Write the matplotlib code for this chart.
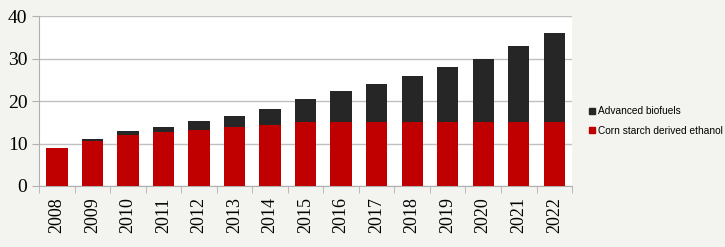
import numpy as np
import matplotlib.pyplot as plt
from matplotlib.patches import Patch

years = ['2008', '2009', '2010', '2011', '2012', '2013', '2014', '2015',
         '2016', '2017', '2018', '2019', '2020', '2021', '2022']
corn = [9.0, 10.5, 12.0, 12.6, 13.2, 13.8, 14.4, 15.0,
        15.0, 15.0, 15.0, 15.0, 15.0, 15.0, 15.0]
advanced = [0.0, 0.6, 0.95, 1.35, 2.0, 2.75, 3.75, 5.5,
            7.25, 9.0, 11.0, 13.0, 15.0, 18.0, 21.0]

red = '#c00000'
dark = '#262626'
bg = '#f3f3ef'

fig = plt.figure(figsize=(7.25, 2.47), dpi=100, facecolor=bg)
ax = fig.add_axes([0.054, 0.247, 0.735, 0.688])
ax.set_facecolor('white')

x = np.arange(len(years))
ax.bar(x, corn, width=0.6, color=red, zorder=3)
ax.bar(x, advanced, width=0.6, bottom=corn, color=dark, zorder=3)

ax.set_xlim(-0.5, len(years) - 0.5)
ax.set_ylim(0, 40)
ax.set_yticks([0, 10, 20, 30, 40])
ax.yaxis.grid(True, color='#c0c0c0', linewidth=1, zorder=0)

serif = 'Liberation Serif'
ax.set_xticks(x)
ax.set_xticklabels(years, rotation=90, fontsize=13, family=serif)
ax.set_xticks(np.arange(-0.5, len(years)), minor=True)
ax.tick_params(axis='x', which='major', length=0, pad=8)
ax.tick_params(axis='x', which='minor', length=5, color='#b0b0b0')
ax.tick_params(axis='y', length=5, color='#b0b0b0', labelsize=14)
for lbl in ax.get_yticklabels():
    lbl.set_family(serif)

for side in ['top', 'right']:
    ax.spines[side].set_visible(False)
ax.spines['left'].set_color('#b0b0b0')
ax.spines['bottom'].set_color('#b0b0b0')

handles = [Patch(color=dark, label='Advanced biofuels'),
           Patch(color=red, label='Corn starch derived ethanol')]
fig.legend(handles=handles, loc='center left', bbox_to_anchor=(0.812, 0.51),
           frameon=False, prop={'family': 'Liberation Sans', 'size': 7.3},
           handlelength=0.6, handleheight=0.6,
           handletextpad=0.3, labelspacing=0.9, borderpad=0, borderaxespad=0)

fig.savefig('out.png', dpi=100, facecolor=bg)
